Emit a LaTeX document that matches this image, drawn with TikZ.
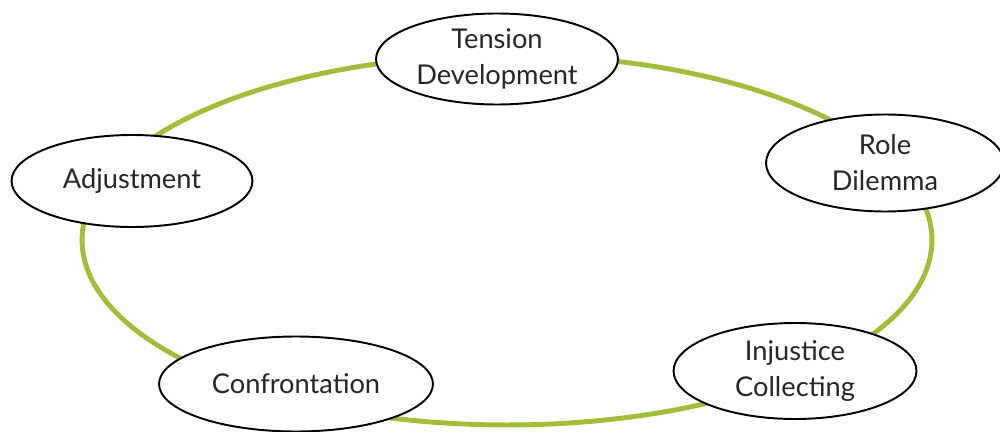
\documentclass[tikz,border=0pt]{standalone}
\usepackage{fontspec}
\setmainfont{Lato}
\usepackage{tikz}
\usetikzlibrary{shapes.geometric}

\definecolor{ringgreen}{HTML}{A2BD3A}

\tikzset{
	stage/.style={ellipse, draw=black, line width=1.1pt, fill=white, inner sep=0pt, align=center, text=black!85, font=\fontsize{15.5}{20.5}\selectfont},
	cycle/.style={draw=ringgreen, line width=2.8pt}
}

\begin{document}
\begin{tikzpicture}[x=0.02cm, y=-0.02cm]
		\useasboundingbox (0,0) rectangle (1000,432);
		
		\coordinate (HUB) at (507,240);
		\draw[cycle] (HUB) ellipse [x radius=8.5cm, y radius=3.7cm];
		
		\node[stage, minimum width=4.84cm, minimum height=1.82cm] (S1) at (497,59) {Tension\\Development};
		\node[stage, minimum width=4.76cm, minimum height=1.94cm] (S2) at (885,163) {Role\\Dilemma};
		\node[stage, minimum width=4.86cm, minimum height=1.92cm] (S3) at (795,371) {Injustice\\Collecting};
		\node[stage, minimum width=5.48cm, minimum height=1.90cm] (S4) at (296,384) {Confrontation};
		\node[stage, minimum width=4.82cm, minimum height=1.84cm] (S5) at (132,181) {Adjustment};
		
		\end{tikzpicture}
\end{document}
